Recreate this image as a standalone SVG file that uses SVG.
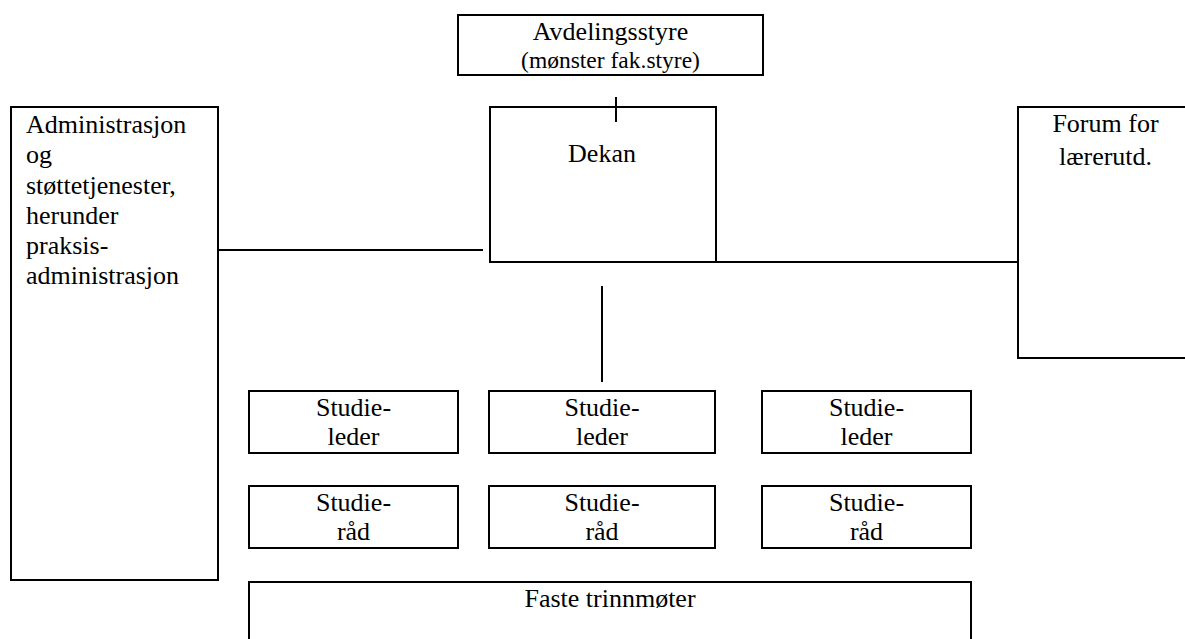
<svg xmlns="http://www.w3.org/2000/svg" width="1185" height="639" viewBox="0 0 1185 639">
<style>
.box{fill:#fff;stroke:#000;stroke-width:2}
.ln{stroke:#000;stroke-width:2;fill:none}
text{font-family:"Liberation Serif","Times New Roman",serif;font-size:26px;fill:#000}
.c{text-anchor:middle}
.sm{font-size:23.5px}
</style>
<rect width="1185" height="639" fill="#fff"/>
<g id="avdelingsstyre">
<rect class="box" x="458" y="15" width="305" height="60"/>
<text class="c" x="610.5" y="40">Avdelingsstyre</text>
<text class="c sm" x="610.5" y="68">(mønster fak.styre)</text>
</g>
<g id="dekan">
<rect class="box" x="490" y="107" width="226" height="155"/>
<text class="c" x="602" y="162">Dekan</text>
</g>
<g id="administrasjon">
<rect class="box" x="11" y="107" width="207" height="473"/>
<text x="26" y="133">Administrasjon</text>
<text x="26" y="163">og</text>
<text x="26" y="193.5">støttetjenester,</text>
<text x="26" y="223.5">herunder</text>
<text x="26" y="254">praksis-</text>
<text x="26" y="284">administrasjon</text>
</g>
<g id="forum">
<rect class="box" x="1018" y="107" width="180" height="251"/>
<text class="c" x="1105.5" y="132">Forum for</text>
<text class="c" x="1105.5" y="165">lærerutd.</text>
</g>
<g id="studieleder1">
<rect class="box" x="249" y="391" width="209" height="62"/>
<text class="c" x="353.5" y="416">Studie-</text>
<text class="c" x="353.5" y="445">leder</text>
</g>
<g id="studieleder2">
<rect class="box" x="489" y="391" width="226" height="62"/>
<text class="c" x="602" y="416">Studie-</text>
<text class="c" x="602" y="445">leder</text>
</g>
<g id="studieleder3">
<rect class="box" x="762" y="391" width="209" height="62"/>
<text class="c" x="866.5" y="416">Studie-</text>
<text class="c" x="866.5" y="445">leder</text>
</g>
<g id="studierad1">
<rect class="box" x="249" y="486" width="209" height="62"/>
<text class="c" x="353.5" y="510.5">Studie-</text>
<text class="c" x="353.5" y="540">råd</text>
</g>
<g id="studierad2">
<rect class="box" x="489" y="486" width="226" height="62"/>
<text class="c" x="602" y="510.5">Studie-</text>
<text class="c" x="602" y="540">råd</text>
</g>
<g id="studierad3">
<rect class="box" x="762" y="486" width="209" height="62"/>
<text class="c" x="866.5" y="510.5">Studie-</text>
<text class="c" x="866.5" y="540">råd</text>
</g>
<g id="faste">
<rect class="box" x="249" y="582" width="722" height="80"/>
<text class="c" x="610" y="607">Faste trinnmøter</text>
</g>
<g id="connectors">
<line class="ln" x1="616" y1="97" x2="616" y2="122"/>
<line class="ln" x1="218" y1="250" x2="483" y2="250"/>
<line class="ln" x1="716" y1="262" x2="1018" y2="262"/>
<line class="ln" x1="602" y1="286" x2="602" y2="382"/>
</g>
</svg>
